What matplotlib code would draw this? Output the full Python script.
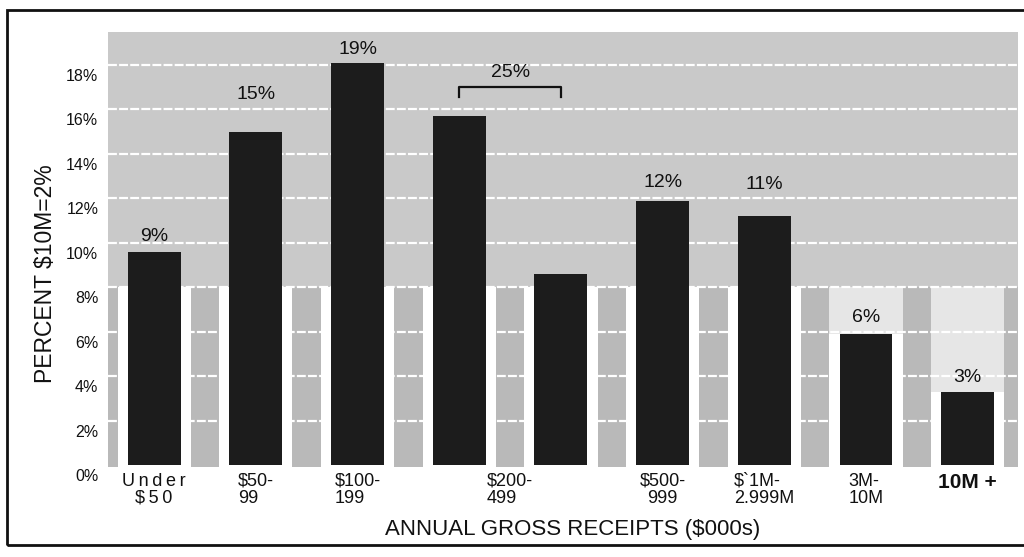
import matplotlib
matplotlib.use("Agg")
import matplotlib.pyplot as plt
import matplotlib.transforms as mtransforms
from matplotlib.patches import Rectangle

plt.rcParams['font.family'] = ['Liberation Sans', 'DejaVu Sans']

# receipt classes ($000s)
categories = ["U\u2009n\u2009d\u2009e\u2009r\n$\u20095\u20090", "$50-\n99", "$100-\n199",
              "$200-\n499", "$500-\n999", "$`1M-\n2.999M", "3M-\n10M", "10M +"]
# bar heights, in % (the $200-499 class is drawn as two bars)
bar_heights = [[9.6], [15.0], [18.1], [15.7, 8.6], [11.9], [11.2], [5.9], [3.3]]
# percentages printed on the chart
value_labels = ["9%", "15%", "19%", "25%", "12%", "11%", "6%", "3%"]
y_ticks = [0, 2, 4, 6, 8, 10, 12, 14, 16, 18]
y_tick_labels = [f"{t}%" for t in y_ticks]

BAR_W = 0.52
COLUMN_W = 0.72
BAR_COLOR = '#1c1c1c'
TEXT_COLOR = '#111111'
# label distance above bar top, pixels (as in the scan)
label_pad = [15, 37, 13, 0, 18, 32, 17, 15]
label_align = ['center', 'left', 'left', 'left', 'center', 'left', 'left', 'left']


def plot_chart(ax):
    xs, hs, tick_x = [], [], []
    pos = 0
    for group in bar_heights:
        group_x = [pos + i for i in range(len(group))]
        xs += group_x
        hs += group
        tick_x.append(sum(group_x) / len(group_x))
        pos += len(group)

    # stippled background: coarser lower band with pale channels round each bar
    ax.set_facecolor('#c9c9c9')
    ax.axhspan(-1, 8, color='#b9b9b9', zorder=0.2, lw=0)
    for x, h in zip(xs, hs):
        ax.add_patch(Rectangle((x - COLUMN_W / 2, -1), COLUMN_W, 9,
                               color='#e6e6e6', lw=0, zorder=0.3))
        ax.add_patch(Rectangle((x - COLUMN_W / 2, -1), COLUMN_W, min(h, 8) + 1,
                               color='white', lw=0, zorder=0.4))
    for t in y_ticks[1:]:
        ax.axhline(t, color='white', lw=1.6, ls=(0, (4, 1)), zorder=0.6)

    ax.bar(xs, hs, width=BAR_W, color=BAR_COLOR, zorder=2)

    k = 0
    for i, group in enumerate(bar_heights):
        gx = xs[k:k + len(group)]
        k += len(group)
        if len(group) == 1:
            ax.annotate(value_labels[i], (gx[0], group[0]),
                        xytext=(0, label_pad[i] * 0.72), textcoords='offset points',
                        ha='center', va='center', fontsize=14, color=TEXT_COLOR)
        else:
            top = max(group) + 1.3
            ax.plot([gx[0], gx[0], gx[-1], gx[-1]],
                    [top - 0.45, top, top, top - 0.45],
                    color=TEXT_COLOR, lw=1.6, zorder=3)
            ax.text(sum(gx) / len(gx), top + 0.65, value_labels[i],
                    ha='center', va='center', fontsize=14, color=TEXT_COLOR)

    ax.set_xlim(-0.454, 8.495)
    ax.set_ylim(-0.07, 19.48)

    ax.tick_params(axis='x', length=0, pad=4, colors=TEXT_COLOR)
    ax.tick_params(axis='y', length=0, pad=7, colors=TEXT_COLOR)

    ax.set_xticks(tick_x, categories, fontsize=13, linespacing=1.0)
    for lbl, ma in zip(ax.get_xticklabels(), label_align):
        lbl.set_multialignment(ma)
    last = ax.get_xticklabels()[-1]
    last.set_fontweight('bold')
    last.set_fontsize(15)

    # the scan prints the % labels a little below their grid lines
    ax.set_yticks(y_ticks, y_tick_labels, fontsize=11.5)
    shift = mtransforms.ScaledTranslation(0, -0.10, ax.figure.dpi_scale_trans)
    for lbl in ax.get_yticklabels():
        lbl.set_transform(lbl.get_transform() + shift)

    for s in ax.spines.values():
        s.set_visible(False)

    ax.set_ylabel("PERCENT $10M=2%", fontsize=16.5, va='center', color=TEXT_COLOR)
    ax.yaxis.set_label_coords((46 - 108) / 910, 1 - (274 - 32) / 435)
    ax.set_xlabel("ANNUAL GROSS RECEIPTS ($000s)", fontsize=16, va='center', color=TEXT_COLOR)
    ax.xaxis.set_label_coords((573 - 108) / 910, 1 - (530 - 32) / 435)


def start():
    fig = plt.figure(figsize=(10.24, 5.57), dpi=100)
    ax = fig.add_axes([108 / 1024, 1 - 467 / 557, 910 / 1024, 435 / 557])
    plot_chart(ax)
    # page frame of the scan
    fig.add_artist(Rectangle((7 / 1024, 1 - 545 / 557), 1.1, 535 / 557,
                             transform=fig.transFigure, fill=False, lw=2,
                             ec='#111', clip_on=False))
    fig.savefig('out.png', dpi=100)


if __name__ == '__main__':
    start()
